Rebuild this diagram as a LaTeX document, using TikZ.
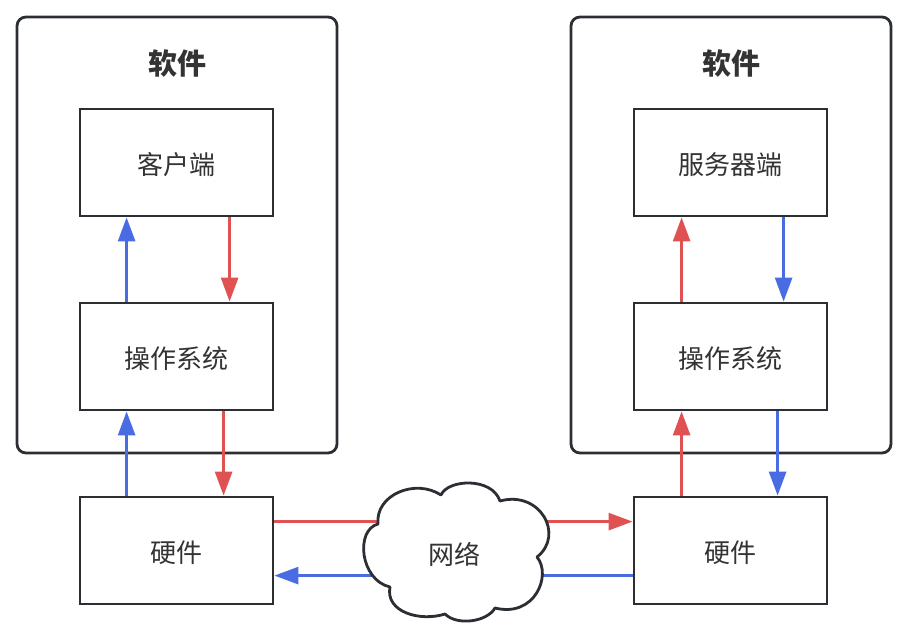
\documentclass[tikz,border=0pt]{standalone}
\usepackage{fontspec}
\newfontfamily\cjk{Noto Sans CJK SC}
\usetikzlibrary{arrows.meta}
\definecolor{ink}{HTML}{2B2F33}
\definecolor{txt}{HTML}{333333}
\definecolor{redc}{HTML}{E05252}
\definecolor{bluec}{HTML}{4A6CE2}
\begin{document}
\begin{tikzpicture}[x=1pt,y=-1pt,
  outerbox/.style={draw=ink,line width=2.8pt,rounded corners=9pt},
  inbox/.style={draw=ink,line width=2.8pt,fill=white,minimum width=193pt,minimum height=107pt,inner sep=0pt,font=\cjk\fontsize{26}{30}\selectfont,text=txt,text height=26pt,text depth=2pt},
  title/.style={font=\cjk\bfseries\fontsize{29}{34}\selectfont,text=txt},
  rarr/.style={draw=redc,line width=2.8pt,-{Triangle[length=24pt,width=17pt]}},
  barr/.style={draw=bluec,line width=2.8pt,-{Triangle[length=24pt,width=17pt]}},
  cloudline/.style={draw=ink,line width=2.8pt,fill=white,line join=round},
  lbl/.style={font=\cjk\fontsize{26}{30}\selectfont,text=txt,text height=26pt,text depth=2pt,inner sep=0pt}]
\useasboundingbox (0,0) rectangle (903,627);
\draw[outerbox] (17,17) rectangle (337,453);
\draw[outerbox] (571,17) rectangle (891,453);
\node[title] (t1) at (177,63) {软件};
\node[title] (t2) at (731,63) {软件};
\node[inbox] (c1) at (176.5,162.5) {客户端};
\node[inbox] (o1) at (176.5,356.5) {操作系统};
\node[inbox] (h1) at (176.5,550.5) {硬件};
\node[inbox] (c2) at (730.5,162.5) {服务器端};
\node[inbox] (o2) at (730.5,356.5) {操作系统};
\node[inbox] (h2) at (730.5,550.5) {硬件};
% left vertical arrows
\draw[barr] ([xshift=48pt]o1.north west) -- ([xshift=48pt]c1.south west);
\draw[rarr] ([xshift=151pt]c1.south west) -- ([xshift=151pt]o1.north west);
\draw[barr] ([xshift=48pt]h1.north west) -- ([xshift=48pt]o1.south west);
\draw[rarr] ([xshift=145pt]o1.south west) -- ([xshift=145pt]h1.north west);
% right vertical arrows
\draw[rarr] ([xshift=49pt]o2.north west) -- ([xshift=49pt]c2.south west);
\draw[barr] ([xshift=151pt]c2.south west) -- ([xshift=151pt]o2.north west);
\draw[rarr] ([xshift=49pt]h2.north west) -- ([xshift=49pt]o2.south west);
\draw[barr] ([xshift=145pt]o2.south west) -- ([xshift=145pt]h2.north west);
% horizontal
\draw[rarr] ([yshift=-26pt]h1.north east) -- ([yshift=-26pt]h2.north west);
\draw[barr] ([yshift=-80pt]h2.north west) -- ([yshift=-80pt]h1.north east);
% cloud
\draw[cloudline] (441,495)
  .. controls (448,479) and (492,477) .. (500,501)
  .. controls (540,490) and (565,535) .. (537,557)
  .. controls (552,575) and (535,618) .. (495,608)
  .. controls (487,622) and (457,626) .. (445,614)
  .. controls (420,622) and (385,612) .. (390,587)
  .. controls (360,580) and (355,530) .. (378,524)
  .. controls (375,495) and (415,478) .. cycle;
\node[lbl] (net) at (454,552) {网络};
\end{tikzpicture}
\end{document}
